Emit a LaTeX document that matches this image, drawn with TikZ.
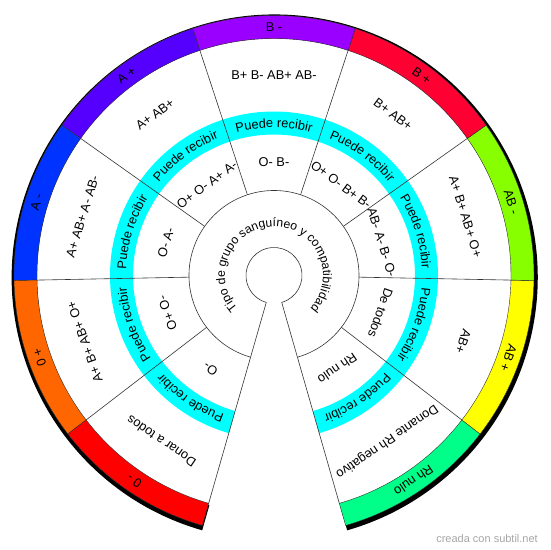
\documentclass[tikz,border=0pt]{standalone}
\usepackage{fontspec}
\setmainfont{Liberation Sans}
\setsansfont{Liberation Sans}
\usetikzlibrary{decorations.text}

\definecolor{rhnulo}{HTML}{00FF88}
\definecolor{abpos}{HTML}{FFFF00}
\definecolor{abneg}{HTML}{88FF00}
\definecolor{bpos}{HTML}{FF0033}
\definecolor{bneg}{HTML}{9900FF}
\definecolor{apos}{HTML}{5500FF}
\definecolor{aneg}{HTML}{0033FF}
\definecolor{opos}{HTML}{FF6600}
\definecolor{oneg}{HTML}{FF0000}
\definecolor{ringcyan}{HTML}{00FFFF}

\newcommand\ringfont{\sffamily\fontsize{12.8}{14}\selectfont}
\newcommand\annulus[5]{\draw[#5] (#1:#3pt) arc[start angle=#1, end angle=#2, radius=#3pt] -- (#2:#4pt) arc[start angle=#2, end angle=#1, radius=#4pt] -- cycle;}

\tikzset{
  edge/.style={draw=black!80, line width=0.6pt},
  label/.style={font=\ringfont, inner sep=0pt},
}

\begin{document}
\begin{tikzpicture}[x=1pt,y=1pt,font=\sffamily]
\useasboundingbox (-274,-274.5) rectangle (276,275.5);

\begin{scope}[shift={(0.7,-2)}]
\annulus{-74}{254}{237}{263}{fill=black, draw=none}
\end{scope}
\annulus{-74}{254}{28}{237}{fill=white, draw=none}

\foreach \lab/\col/\outtext/\intext [count=\i from 0] in
  {Rh nulo/rhnulo/Donante Rh negativo/Rh nulo,
   AB +/abpos/AB+/De todos,
   AB -/abneg/A+ B+ AB+ O+/AB- A- B- O-,
   B +/bpos/B+ AB+/O+ O- B+ B-,
   B -/bneg/B+ B- AB+ AB-/O- B-,
   A +/apos/A+ AB+/O+ O- A+ A-,
   A -/aneg/A+ AB+ A- AB-/O- A-,
   0 +/opos/A+ B+ AB+ O+/O+ O-,
   0 -/oneg/Donar a todos/O-}
{
  \pgfmathsetmacro\a{-74+\i*328/9}
  \pgfmathsetmacro\b{\a+328/9}
  \pgfmathsetmacro\m{\a+164/9}
  \pgfmathsetmacro\r{\m-90}
  \pgfmathsetmacro\ts{\m+18}
  \pgfmathsetmacro\te{\m-18}
  \annulus{\a}{\b}{237}{260}{fill=\col, edge, line width=0.4pt}
  \annulus{\a}{\b}{141}{164}{fill=ringcyan, draw=none}
  \draw[edge] (\a:85pt) -- (\a:237pt);
  \path[decorate, decoration={text along path, text align=center,
    text={|\ringfont|Puede recibir}}]
    (\ts:148pt) arc[start angle=\ts, end angle=\te, radius=148pt];
  \node[label, rotate=\r] (band\i) at (\m:248.5pt) {\lab};
  \node[label, rotate=\r] (outer\i) at (\m:200.5pt) {\outtext};
  \node[label, rotate=\r] (inner\i) at (\m:113pt) {\intext};
}

\draw[edge] (254:85pt) -- (254:237pt);
\draw[edge] (-74:28pt) -- (-74:85pt);
\draw[edge] (254:28pt) -- (254:85pt);
\draw[edge] (-74:28pt) arc[start angle=-74, end angle=254, radius=28pt];
\draw[edge] (-74:85pt) arc[start angle=-74, end angle=254, radius=85pt];

\path[decorate, decoration={text along path, text align=center,
  text={|\sffamily\fontsize{12.2}{14}\selectfont|Tipo de grupo sanguíneo y compatibilidad}}]
  (250:49pt) arc[start angle=250, end angle=-70, radius=49pt];

\node[anchor=south east, text=black!35, font=\fontsize{11}{12}\selectfont, inner sep=0pt] (credit) at (264,-267) {creada con subtil.net};
\end{tikzpicture}
\end{document}
